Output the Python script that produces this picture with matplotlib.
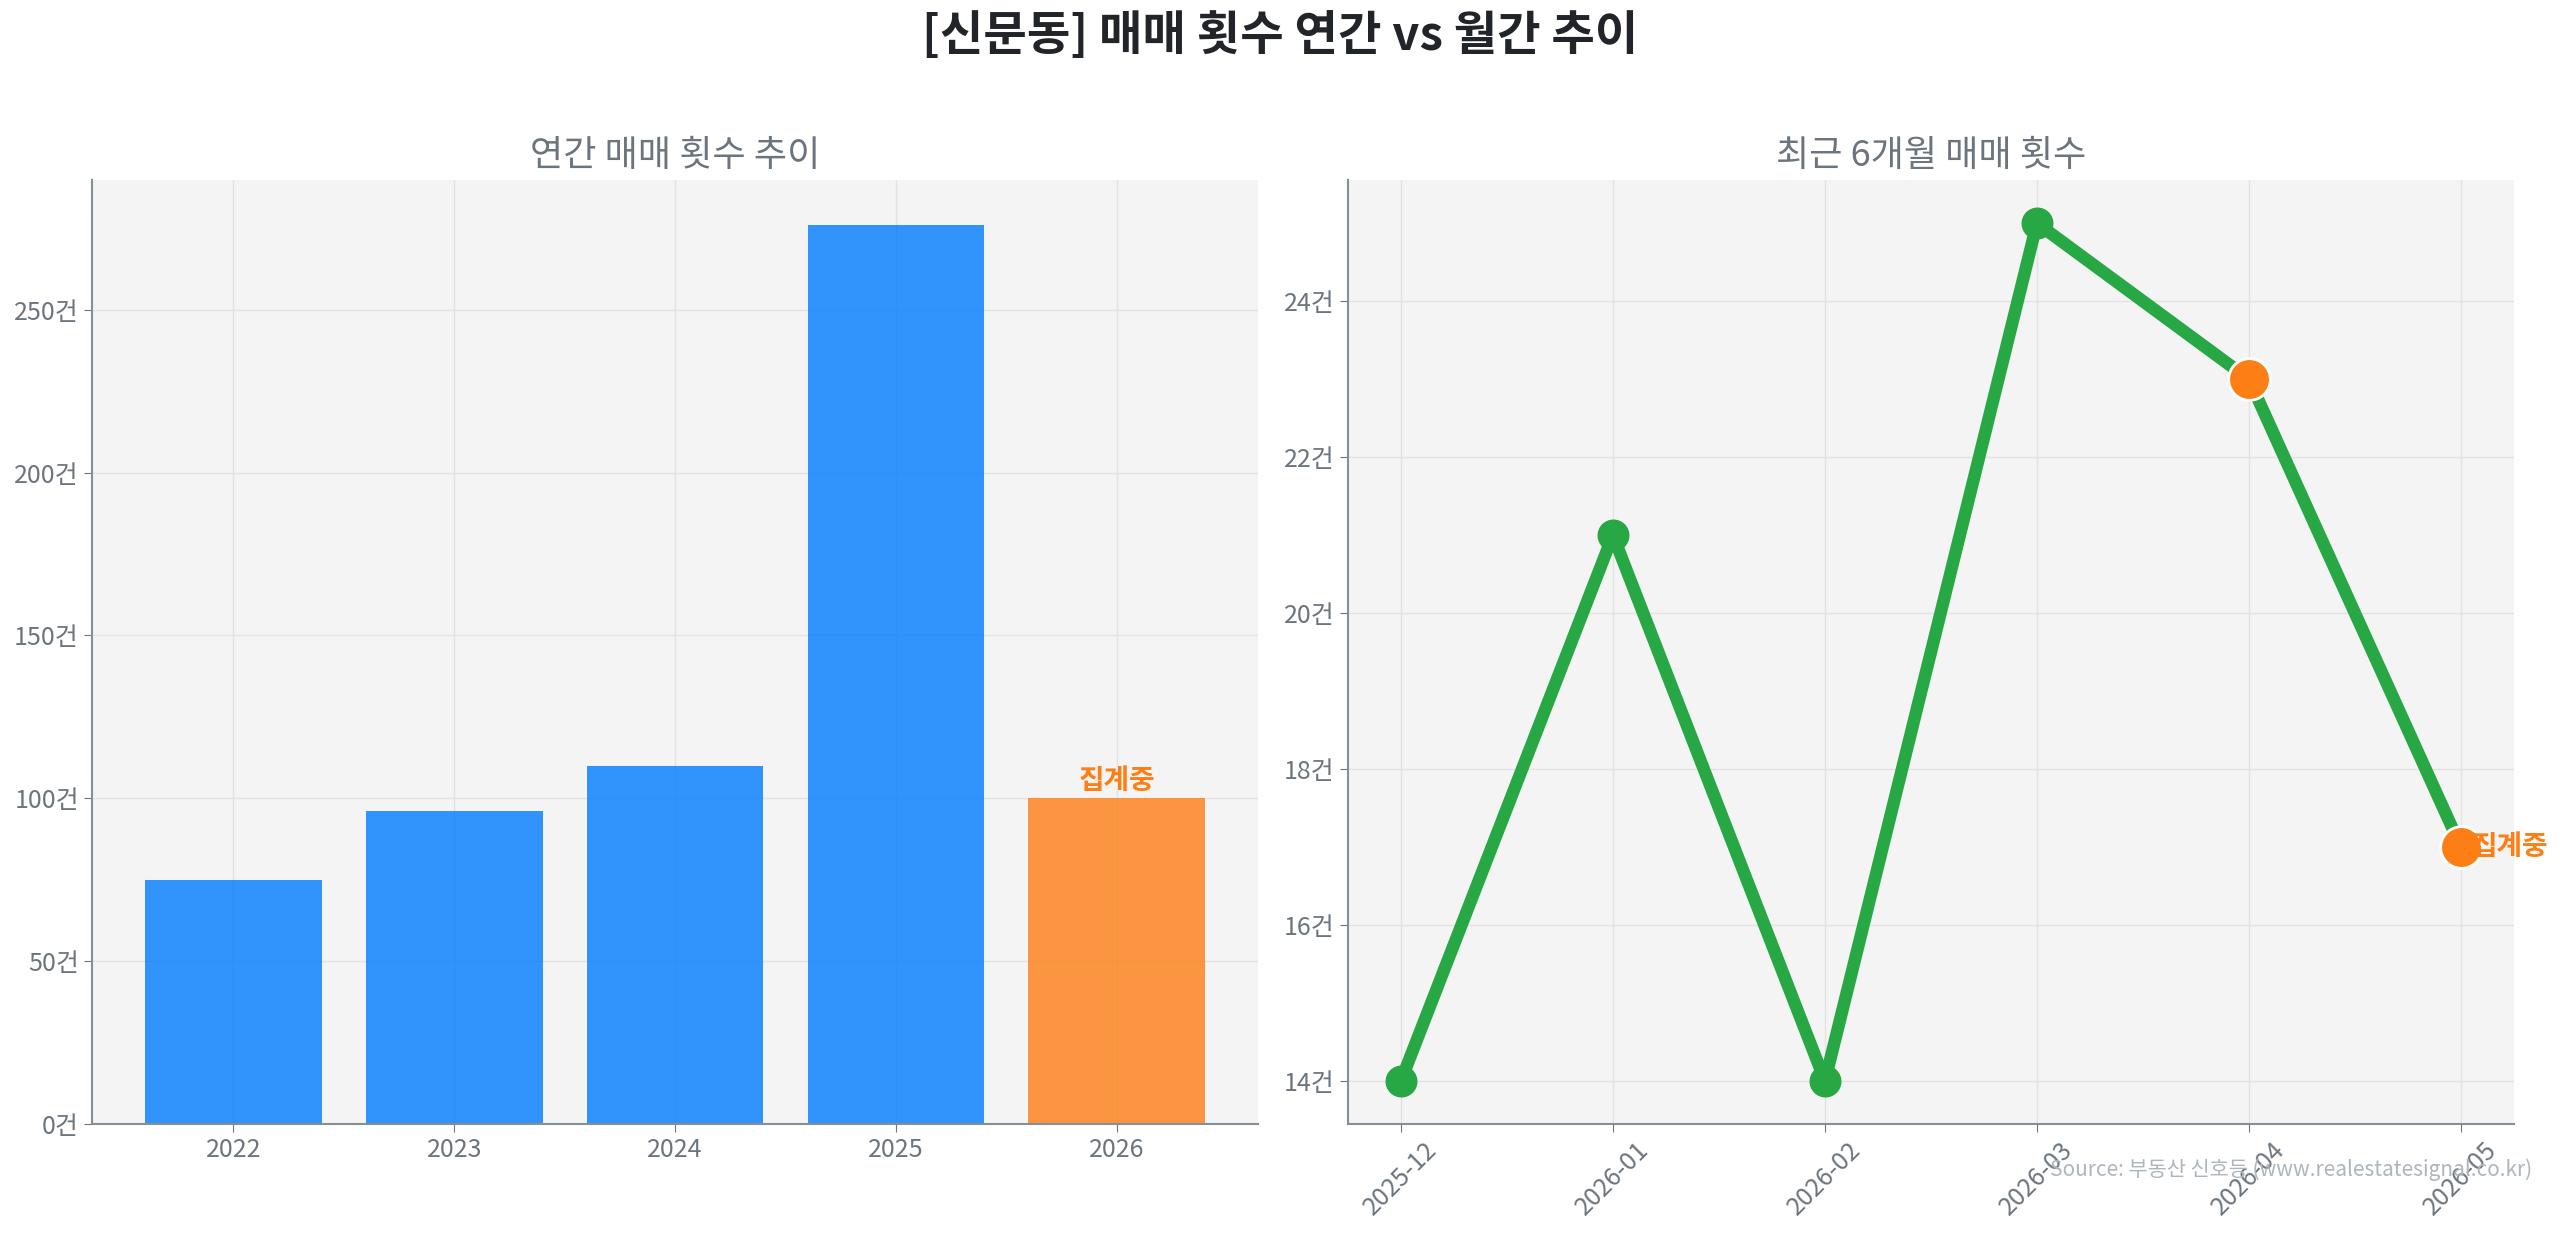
import matplotlib
matplotlib.use('Agg')
import matplotlib.pyplot as plt

plt.rcParams['font.family'] = ['Noto Sans CJK KR', 'DejaVu Sans']
plt.rcParams['axes.unicode_minus'] = False

# 연간 데이터
years = ['2022', '2023', '2024', '2025', '2026']
year_counts = [75, 96, 110, 276, 100]

# 최근 6개월
months = ['2025-12', '2026-01', '2026-02', '2026-03', '2026-04', '2026-05']
month_counts = [14, 21, 14, 25, 23, 17]

BLUE = '#007bff'
ORANGE = '#fd7e14'
GREEN = '#28a745'
GRAY = '#6c757d'
DARK = '#212529'

fig, (ax1, ax2) = plt.subplots(1, 2, figsize=(25.6, 12.35), dpi=100)
fig.subplots_adjust(left=0.036, right=0.982, top=0.854, bottom=0.090, wspace=0.077)

for ax in (ax1, ax2):
    ax.set_facecolor('#f4f4f4')
    ax.grid(True, color='#e3e3e3', linewidth=1)
    ax.set_axisbelow(True)
    ax.spines['top'].set_visible(False)
    ax.spines['right'].set_visible(False)
    ax.spines['left'].set_color('#868e96')
    ax.spines['bottom'].set_color('#868e96')
    ax.spines['left'].set_linewidth(1.5)
    ax.spines['bottom'].set_linewidth(1.5)
    ax.tick_params(colors=GRAY, labelsize=18, length=6)

# 왼쪽: 연간 막대
colors = [BLUE] * (len(years) - 1) + [ORANGE]
ax1.bar(years, year_counts, color=colors, alpha=0.8, width=0.8)
ax1.text(len(years) - 1, year_counts[-1] + 1.0, '집계중', color=ORANGE,
         fontsize=20, fontweight='bold', ha='center', va='bottom')
ax1.set_ylim(0, max(year_counts) * 1.05)
ax1.yaxis.set_major_formatter(plt.FuncFormatter(lambda v, p: f'{int(v)}건'))
ax1.set_title('연간 매매 횟수 추이', color=GRAY, fontsize=26, pad=10)

# 오른쪽: 월간 라인
x = list(range(len(months)))
ax2.plot(x, month_counts, color=GREEN, linewidth=9, marker='o', markersize=22, zorder=3)
ax2.plot(x[-2:], month_counts[-2:], linestyle='none', marker='o', markersize=30,
         color=ORANGE, markeredgecolor='white', markeredgewidth=2, zorder=4)
ax2.text(x[-1] + 0.05, month_counts[-1], '집계중', color=ORANGE,
         fontsize=20, fontweight='bold', ha='left', va='center', zorder=5)
ax2.set_xticks(x)
ax2.set_xticklabels(months, rotation=45)
ax2.yaxis.set_major_formatter(plt.FuncFormatter(lambda v, p: f'{int(v)}건'))
ax2.set_title('최근 6개월 매매 횟수', color=GRAY, fontsize=26, pad=10)

fig.suptitle('[신문동] 매매 횟수 연간 vs 월간 추이', fontsize=34, fontweight='bold',
             color=DARK, y=0.99)
fig.text(0.989, 0.053, 'Source: 부동산 신호등 (www.realestatesignal.co.kr)',
         ha='right', va='center', fontsize=15, color='#adb5bd')

fig.savefig('out.png', dpi=100)
